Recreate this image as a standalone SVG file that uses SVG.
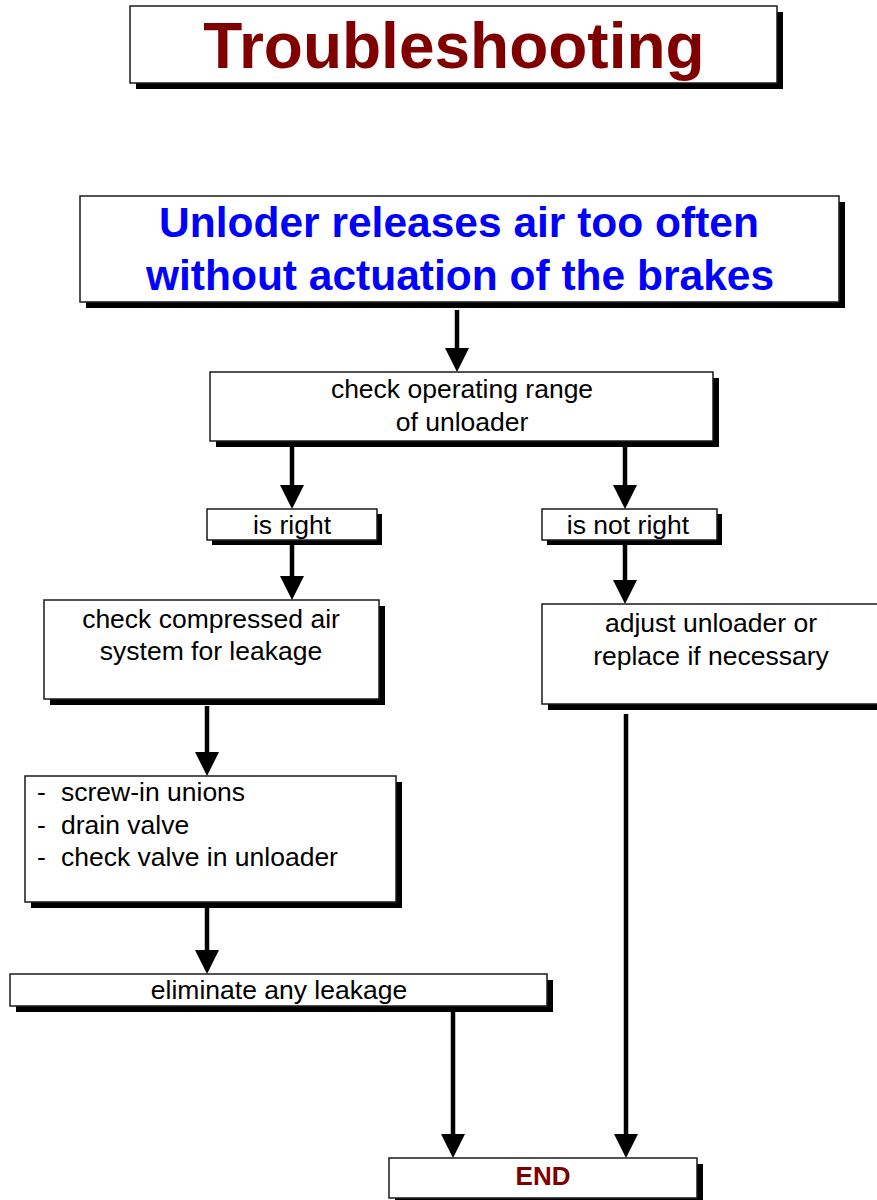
<svg xmlns="http://www.w3.org/2000/svg" width="877" height="1200" viewBox="0 0 877 1200">
  <style>
    .box { fill: #ffffff; stroke: #1a1a1a; stroke-width: 1.5; }
    .shadow { fill: #000000; }
    .txt { font-family: "Liberation Sans", Arial, sans-serif; font-size: 26.5px; fill: #000000; text-anchor: middle; }
    .list { font-family: "Liberation Sans", Arial, sans-serif; font-size: 26.5px; fill: #000000; }
    .title { font-family: "Liberation Sans", Arial, sans-serif; font-weight: bold; font-size: 64px; fill: #800000; text-anchor: middle; }
    .head { font-family: "Liberation Sans", Arial, sans-serif; font-weight: bold; font-size: 42.5px; fill: #0000ff; text-anchor: middle; }
    .end { font-family: "Liberation Sans", Arial, sans-serif; font-weight: bold; font-size: 26px; fill: #800000; text-anchor: middle; }
    .flow { stroke: #000000; stroke-width: 4.5; fill: none; }
  </style>
  <defs>
    <!-- filled arrowhead: 24 long, 24 wide, tip lands 14 past the line end -->
    <marker id="arrow" markerUnits="userSpaceOnUse" markerWidth="24" markerHeight="24" viewBox="0 0 24 24" refX="10" refY="12" orient="auto">
      <path d="M0,0 L24,12 L0,24 Z" fill="#000000"/>
    </marker>
  </defs>

  <rect width="877" height="1200" fill="#ffffff"/>

  <!-- title -->
  <g id="title">
    <rect class="shadow" x="136" y="12" width="647" height="77"/>
    <rect class="box" x="130" y="6" width="647" height="77"/>
    <text class="title" x="454" y="68">Troubleshooting</text>
  </g>

  <!-- connectors -->
  <g id="connectors">
    <line class="flow" x1="457" y1="310" x2="457" y2="358" marker-end="url(#arrow)"/>
    <line class="flow" x1="292" y1="447" x2="292" y2="495" marker-end="url(#arrow)"/>
    <line class="flow" x1="625" y1="447" x2="625" y2="495" marker-end="url(#arrow)"/>
    <line class="flow" x1="292" y1="545" x2="292" y2="586" marker-end="url(#arrow)"/>
    <line class="flow" x1="625" y1="545" x2="625" y2="590" marker-end="url(#arrow)"/>
    <line class="flow" x1="207" y1="706" x2="207" y2="762" marker-end="url(#arrow)"/>
    <line class="flow" x1="207" y1="908" x2="207" y2="960" marker-end="url(#arrow)"/>
    <line class="flow" x1="453" y1="1012" x2="453" y2="1144" marker-end="url(#arrow)"/>
    <line class="flow" x1="626" y1="714" x2="626" y2="1144" marker-end="url(#arrow)"/>
  </g>

  <g id="problem">
    <rect class="shadow" x="86" y="202" width="759" height="106"/>
    <rect class="box" x="80" y="196" width="759" height="106"/>
    <text class="head" x="459" y="237">Unloder releases air too often</text>
    <text class="head" x="460" y="290">without actuation of the brakes</text>
  </g>

  <g id="check-range">
    <rect class="shadow" x="216" y="378" width="503" height="69"/>
    <rect class="box" x="210" y="372" width="503" height="69"/>
    <text class="txt" x="462" y="398">check operating range</text>
    <text class="txt" x="462" y="431">of unloader</text>
  </g>

  <g id="is-right">
    <rect class="shadow" x="212" y="514" width="170" height="31"/>
    <rect class="box" x="207" y="509" width="170" height="31"/>
    <text class="txt" x="292" y="534">is right</text>
  </g>

  <g id="is-not-right">
    <rect class="shadow" x="547" y="514" width="175" height="31"/>
    <rect class="box" x="542" y="509" width="175" height="31"/>
    <text class="txt" x="628" y="534">is not right</text>
  </g>

  <g id="check-leakage">
    <rect class="shadow" x="50" y="606" width="335" height="99"/>
    <rect class="box" x="44" y="600" width="335" height="99"/>
    <text class="txt" x="211" y="628">check compressed air</text>
    <text class="txt" x="211" y="660">system for leakage</text>
  </g>

  <g id="adjust">
    <rect class="shadow" x="548" y="610" width="340" height="100"/>
    <rect class="box" x="542" y="604" width="340" height="100"/>
    <text class="txt" x="711" y="632">adjust unloader or</text>
    <text class="txt" x="711" y="665">replace if necessary</text>
  </g>

  <g id="leak-points">
    <rect class="shadow" x="31" y="782" width="371" height="126"/>
    <rect class="box" x="25" y="776" width="371" height="126"/>
    <text class="list" x="37" y="801">-</text>
    <text class="list" x="61" y="801">screw-in unions</text>
    <text class="list" x="37" y="834">-</text>
    <text class="list" x="61" y="834">drain valve</text>
    <text class="list" x="37" y="866">-</text>
    <text class="list" x="61" y="866">check valve in unloader</text>
  </g>

  <g id="eliminate">
    <rect class="shadow" x="16" y="980" width="537" height="32"/>
    <rect class="box" x="10" y="974" width="537" height="32"/>
    <text class="txt" x="279" y="999">eliminate any leakage</text>
  </g>

  <g id="end">
    <rect class="shadow" x="395" y="1164" width="308" height="40"/>
    <rect class="box" x="389" y="1158" width="308" height="40"/>
    <text class="end" x="543" y="1185">END</text>
  </g>
</svg>
